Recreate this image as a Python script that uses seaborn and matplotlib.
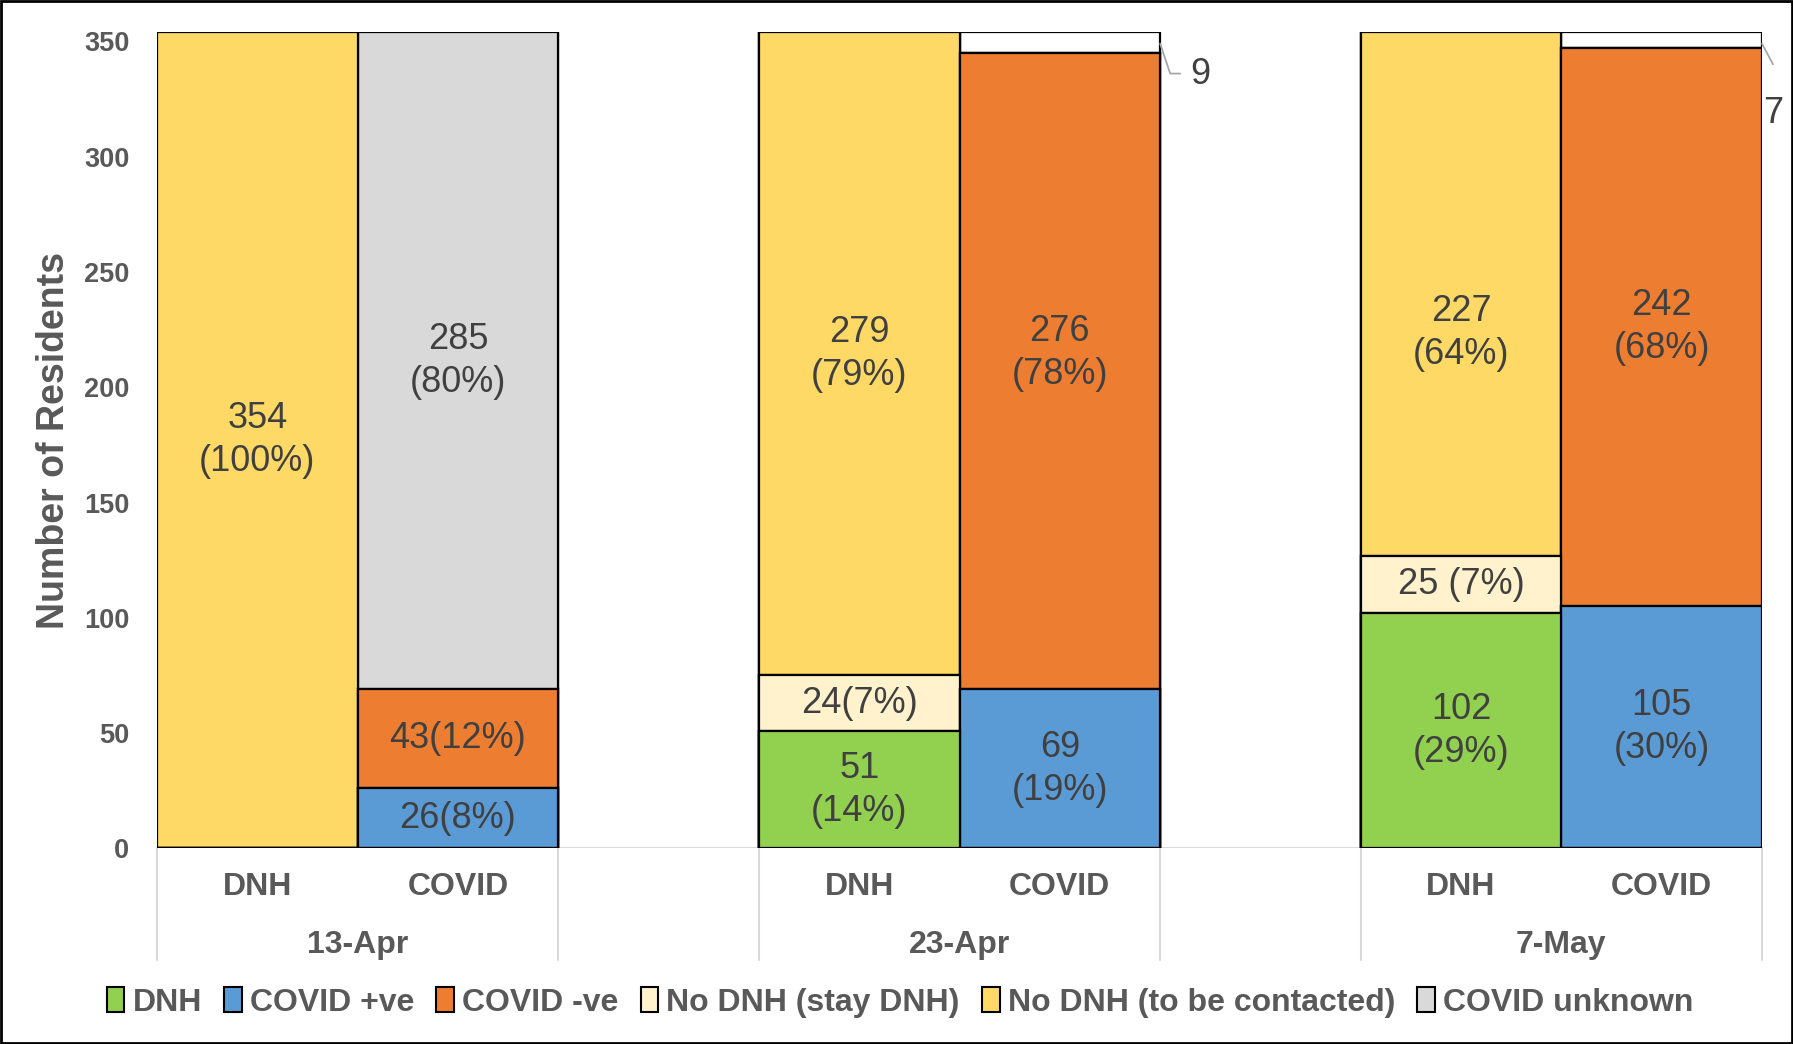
import matplotlib
matplotlib.use("Agg")
import matplotlib.pyplot as plt
import seaborn as sns
from matplotlib import font_manager
from matplotlib.patches import Patch, Rectangle

# bars: DNH / COVID for each date
dates = ["13-Apr", "23-Apr", "7-May"]
kinds = ["DNH", "COVID"]
bar_ids = [f"{d} {k}" for d in dates for k in kinds]
order = ["13-Apr DNH", "13-Apr COVID", "gap1",
         "23-Apr DNH", "23-Apr COVID", "gap2",
         "7-May DNH", "7-May COVID"]

# series values per bar (stacking order bottom -> top)
dnh = [0, 0, 51, 0, 102, 0]
covid_pos = [0, 26, 0, 69, 0, 105]
no_dnh_stay = [0, 0, 24, 0, 25, 0]
covid_neg = [0, 43, 0, 276, 0, 242]
no_dnh_contact = [354, 0, 279, 0, 227, 0]
covid_unknown = [0, 285, 0, 0, 0, 0]
blank = [0, 0, 0, 9, 0, 7]

series = [dnh, covid_pos, no_dnh_stay, covid_neg, no_dnh_contact, covid_unknown, blank]
colors = ["#92D050", "#5B9BD5", "#FFF2CC", "#ED7D31", "#FFD966", "#D9D9D9", "#FFFFFF"]
legend_names = ["DNH", "COVID +ve", "COVID -ve", "No DNH (stay DNH)",
                "No DNH (to be contacted)", "COVID unknown"]
legend_colors = ["#92D050", "#5B9BD5", "#ED7D31", "#FFF2CC", "#FFD966", "#D9D9D9"]

# labels inside segments
seg_labels = {
    ("13-Apr DNH", 4): "354\n(100%)",
    ("13-Apr COVID", 1): "26(8%)",
    ("13-Apr COVID", 3): "43(12%)",
    ("13-Apr COVID", 5): "285\n(80%)",
    ("23-Apr DNH", 0): "51\n(14%)",
    ("23-Apr DNH", 2): "24(7%)",
    ("23-Apr DNH", 4): "279\n(79%)",
    ("23-Apr COVID", 1): "69\n(19%)",
    ("23-Apr COVID", 3): "276\n(78%)",
    ("7-May DNH", 0): "102\n(29%)",
    ("7-May DNH", 2): "25 (7%)",
    ("7-May DNH", 4): "227\n(64%)",
    ("7-May COVID", 1): "105\n(30%)",
    ("7-May COVID", 3): "242\n(68%)",
}
# labels that sit off the segment centre in the original
label_nudge = {("23-Apr COVID", 3): 8, ("7-May DNH", 4): -17}

sns.set_theme(style="white")
names = {f.name for f in font_manager.fontManager.ttflist}
plt.rcParams["font.family"] = ["Liberation Sans", "DejaVu Sans"]
legend_family = "Liberation Sans Narrow" if "Liberation Sans Narrow" in names else "Liberation Sans"

fig = plt.figure(figsize=(17.93, 10.44), dpi=100)
ax = fig.add_axes([0.0876, 0.1873, 0.8951, 0.782])

# cumulative layers drawn from top down so lower segments cover upper ones
cums = []
running = [0] * len(bar_ids)
for s in series:
    running = [r + v for r, v in zip(running, s)]
    cums.append(running)

for k in range(len(series) - 1, -1, -1):
    sns.barplot(x=bar_ids, y=cums[k], order=order, color=colors[k], saturation=1,
                width=1, edgecolor="black", linewidth=1.6, ax=ax, zorder=3)

ax.set_xlim(-0.5, 7.5)
ax.set_ylim(0, 354)
for sp in ax.spines.values():
    sp.set_visible(False)
ax.axhline(0, color="#D9D9D9", lw=1.5, zorder=1)

ax.set_yticks(range(0, 351, 50))
ax.tick_params(axis="y", length=0, pad=20, labelsize=19.5, labelcolor="#595959")
for t in ax.get_yticklabels():
    t.set_fontweight("bold")
ax.set_xticks([])
ax.set_xlabel("")
ax.set_ylabel("Number of Residents", fontsize=27, fontweight="bold", color="#595959")
ax.yaxis.set_label_coords(-0.053, 0.5)

# category separators and labels
pos = {b: order.index(b) for b in bar_ids}
for x in [-0.5, 1.5, 2.5, 4.5, 5.5, 7.5]:
    ax.plot([x, x], [0, -48.3], color="#D9D9D9", lw=1.5, clip_on=False, zorder=1)
for b in bar_ids:
    ax.text(pos[b], -16.7, b.split(" ")[1], ha="center", va="center", fontsize=23,
            fontweight="bold", color="#595959", clip_on=False)
for i, d in enumerate(dates):
    ax.text(pos[f"{d} DNH"] + 0.5, -41.8, d, ha="center", va="center", fontsize=23,
            fontweight="bold", color="#595959", clip_on=False)

# data labels
for (b, k), txt in seg_labels.items():
    i = bar_ids.index(b)
    lo = cums[k][i] - series[k][i]
    y = lo + series[k][i] / 2 + label_nudge.get((b, k), 0)
    ax.text(pos[b], y, txt, ha="center", va="center",
            fontsize=26, color="#404040", linespacing=1.3, zorder=5)

# small top segments with leader lines
ax.plot([4.5, 4.55, 4.6], [349, 336, 336], color="#A6A6A6", lw=1.3, clip_on=False, zorder=5)
ax.text(4.65, 335.5, str(blank[3]), ha="left", va="center", fontsize=26, color="#404040", clip_on=False)
ax.plot([7.5, 7.555], [349, 340], color="#A6A6A6", lw=1.3, clip_on=False, zorder=5)
ax.text(7.505, 318.8, str(blank[5]), ha="left", va="center", fontsize=26, color="#404040", clip_on=False)

handles = [Patch(facecolor=c, edgecolor="black", linewidth=1.5) for c in legend_colors]
fig.legend(handles, legend_names, loc="center", bbox_to_anchor=(0.502, 0.040), ncol=6,
           frameon=False, handlelength=0.55, handleheight=0.85, handletextpad=0.25,
           columnspacing=0.7, prop={"family": legend_family, "weight": "bold", "size": 23},
           labelcolor="#595959")

fig.add_artist(Rectangle((0.0008, 0.0012), 0.9984, 0.9976, transform=fig.transFigure,
                         fill=False, edgecolor="black", lw=2))

fig.savefig("out.png", dpi=100)
